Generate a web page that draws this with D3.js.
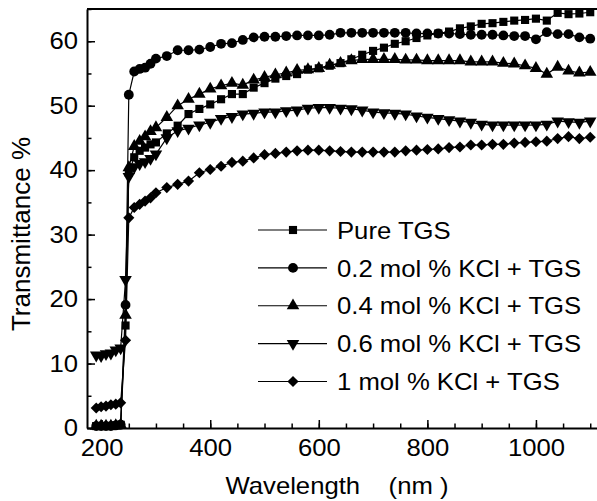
<!DOCTYPE html>
<html>
<head>
<meta charset="utf-8">
<script src="https://cdn.jsdelivr.net/npm/d3@7"></script>
<style>
  body { margin: 0; background: #fff; }
  text { font-family: "Liberation Sans", Arial, sans-serif; fill: #000; }
</style>
</head>
<body>
<div id="chart"></div>
<script>
// wavelength (nm) of every measured point
var wavelengths = [190, 199, 208, 217, 226, 235, 244,
    250, 260, 270, 280, 290, 300,
    320, 340, 360, 380, 400, 420, 440, 460, 480, 500,
    520, 540, 560, 580, 600, 620, 640, 660, 680, 700,
    720, 740, 760, 780, 800, 820, 840, 860, 880, 900,
    920, 940, 960, 980, 1000, 1020, 1040, 1060, 1080, 1100];

var pureTGS = [0.3, 0.3, 0.3, 0.3, 0.4, 0.5, 15.9,
    39.6, 42.0, 43.0, 43.5, 44.0, 44.3,
    45.7, 46.9, 48.7, 49.5, 50.2, 51.0, 51.8, 51.8, 52.8, 53.5,
    54.2, 54.6, 54.9, 55.6, 55.8, 56.2, 56.6, 57.2, 57.9, 58.5,
    59.0, 59.6, 60.0, 60.5, 60.9, 61.2, 61.5, 62.0, 62.3, 62.7,
    62.8, 63.0, 63.2, 63.3, 63.5, 63.2, 64.4, 64.2, 64.3, 64.5];

var kcl02 = [0.3, 0.3, 0.3, 0.3, 0.4, 0.5, 19.1,
    51.7, 55.3, 55.7, 55.9, 56.5, 57.3,
    57.7, 58.6, 58.6, 58.7, 59.1, 59.6, 59.7, 60.2, 60.6, 60.7,
    60.7, 60.8, 60.9, 60.9, 60.9, 61.0, 61.3, 61.3, 61.3, 61.3,
    61.3, 61.3, 61.3, 61.2, 61.2, 61.2, 61.2, 61.1, 61.0, 61.0,
    61.0, 60.9, 60.8, 60.8, 60.3, 61.4, 61.1, 61.1, 60.6, 60.4];

var kcl04 = [0.3, 0.3, 0.3, 0.3, 0.4, 0.5, 17.5,
    40.4, 43.7, 44.5, 45.2, 46.0, 46.6,
    48.2, 50.0, 51.0, 51.8, 52.6, 53.1, 53.5, 53.2, 54.0, 54.4,
    54.8, 55.1, 55.5, 55.6, 55.8, 56.3, 56.6, 57.0, 57.2, 57.2,
    57.2, 57.2, 57.1, 57.1, 57.0, 57.0, 57.0, 57.0, 56.8, 56.8,
    56.8, 56.6, 56.5, 56.2, 55.8, 54.9, 56.0, 55.4, 55.1, 55.2];

var kcl06 = [11.3, 11.2, 11.5, 11.6, 12.1, 12.4, 23.0,
    39.0, 40.5, 41.0, 41.3, 41.8, 42.5,
    45.0, 46.1, 46.5, 47.0, 47.4, 48.0, 48.3, 48.7, 48.8, 49.0,
    49.0, 49.2, 49.3, 49.6, 49.7, 49.7, 49.6, 49.5, 49.3, 49.0,
    48.9, 48.8, 48.7, 48.4, 48.2, 48.0, 47.8, 47.6, 47.4, 47.1,
    47.0, 47.0, 47.0, 47.0, 47.0, 47.1, 47.6, 47.5, 47.4, 47.6];

var kcl1 = [3.1, 3.3, 3.4, 3.6, 3.7, 3.9, 13.6,
    32.6, 34.2, 34.7, 35.2, 35.7, 36.5,
    37.3, 37.8, 38.3, 39.6, 40.1, 40.6, 41.2, 41.4, 41.9, 42.4,
    42.6, 42.8, 43.0, 43.1, 43.1, 43.0, 42.9, 42.8, 42.8, 42.8,
    42.8, 42.8, 43.0, 43.1, 43.2, 43.3, 43.5, 43.6, 43.9, 43.9,
    44.0, 44.0, 44.2, 44.3, 44.4, 44.5, 44.9, 45.2, 44.9, 45.1];

var seriesNames = ["Pure TGS", "0.2 mol % KCl + TGS", "0.4 mol % KCl + TGS",
    "0.6 mol % KCl + TGS", "1 mol % KCl + TGS"];
var seriesMarkers = ["square", "circle", "triangle", "triangleDown", "diamond"];

var xTicks = [200, 400, 600, 800, 1000];
var xMinorTicks = d3.range(200, 1101, 50);
var yTicks = [0, 10, 20, 30, 40, 50, 60];
var yMinorTicks = d3.range(0, 66, 5);

var series = [pureTGS, kcl02, kcl04, kcl06, kcl1].map(function(vals, i) {
    return {
        name: seriesNames[i],
        marker: seriesMarkers[i],
        points: vals.map(function(v, j) { return {x: wavelengths[j], y: v}; })
    };
});

var W = 597, H = 501;
var margin = {top: 9, right: -3, bottom: 73, left: 87};
var fs = 24;         // font size of tick labels, legend, x title
var stretch = 1.07;  // text in the figure is drawn a bit wide

var svg = d3.select("#chart").append("svg")
    .attr("width", W)
    .attr("height", H);

var x = d3.scaleLinear()
    .domain([173, 1118])
    .range([margin.left, W - margin.right]);

var y = d3.scaleLinear()
    .domain([0, 65])
    .range([H - margin.bottom, margin.top]);

// marker shapes
function markerPath(type) {
    if (type === "square") return d3.symbol(d3.symbolSquare, 66)();
    if (type === "circle") return d3.symbol(d3.symbolCircle, 76)();
    if (type === "triangle" || type === "triangleDown") return d3.symbol(d3.symbolTriangle, 68)();
    return d3.symbol(d3.symbolSquare, 62)();
}
function markerRotate(type) {
    if (type === "triangleDown") return " rotate(180)";
    if (type === "diamond") return " rotate(45)";
    return "";
}

// top frame line
svg.append("line")
    .attr("x1", margin.left).attr("x2", W)
    .attr("y1", y(65)).attr("y2", y(65))
    .attr("stroke", "#000")
    .attr("stroke-width", 2);

// X axis: major and minor ticks pointing inward
var xAxisG = svg.append("g")
    .attr("transform", "translate(0," + y(0) + ")");
xAxisG.append("g")
    .call(d3.axisBottom(x).tickValues(xMinorTicks).tickSize(-4.5).tickFormat(""))
    .call(function(g) { g.select(".domain").remove(); });
xAxisG.append("g")
    .call(d3.axisBottom(x).tickValues(xTicks).tickSize(-8).tickSizeOuter(0)
        .tickPadding(11).tickFormat(d3.format("d")))
    .call(function(g) {
        g.select(".domain").attr("stroke-width", 2);
        g.selectAll("text")
            .style("font-size", fs + "px")
            .attr("transform", "scale(" + stretch + ",1)");
    });
xAxisG.selectAll(".tick line").attr("stroke-width", 1.5);

// Y axis
var yAxisG = svg.append("g")
    .attr("transform", "translate(" + margin.left + ",0)");
yAxisG.append("g")
    .call(d3.axisLeft(y).tickValues(yMinorTicks).tickSize(-4.5).tickFormat(""))
    .call(function(g) { g.select(".domain").remove(); });
yAxisG.append("g")
    .call(d3.axisLeft(y).tickValues(yTicks).tickSize(-8).tickSizeOuter(0).tickPadding(9))
    .call(function(g) {
        g.select(".domain").attr("stroke-width", 2);
        g.selectAll("text")
            .style("font-size", fs + "px")
            .attr("x", -9 / stretch)
            .attr("transform", "scale(" + stretch + ",1)");
    });
yAxisG.selectAll(".tick line").attr("stroke-width", 1.5);

// lines
var line = d3.line()
    .x(function(d) { return x(d.x); })
    .y(function(d) { return y(d.y); });

var seriesG = svg.append("g")
    .selectAll("g")
    .data(series)
    .enter()
    .append("g");

seriesG.append("path")
    .attr("d", function(d) { return line(d.points); })
    .attr("fill", "none")
    .attr("stroke", "#000")
    .attr("stroke-width", 1.2);

seriesG.each(function(s) {
    d3.select(this).selectAll("path.mk")
        .data(s.points)
        .enter()
        .append("path")
        .attr("class", "mk")
        .attr("d", markerPath(s.marker))
        .attr("transform", function(d) {
            return "translate(" + x(d.x) + "," + y(d.y) + ")" + markerRotate(s.marker);
        })
        .attr("fill", "#000");
});

// legend
var legendY = d3.scalePoint()
    .domain(seriesNames)
    .range([230, 381.5]);

var legend = svg.append("g")
    .selectAll("g")
    .data(series)
    .enter()
    .append("g")
    .attr("transform", function(d) { return "translate(0," + legendY(d.name) + ")"; });

legend.append("line")
    .attr("x1", 258).attr("x2", 327)
    .attr("y1", 0).attr("y2", 0)
    .attr("stroke", "#000")
    .attr("stroke-width", 1.2);

legend.append("path")
    .attr("d", function(d) { return markerPath(d.marker); })
    .attr("transform", function(d) { return "translate(293,0)" + markerRotate(d.marker); })
    .attr("fill", "#000");

legend.append("text")
    .attr("transform", "translate(337,0) scale(" + stretch + ",1)")
    .attr("dy", "0.36em")
    .style("font-size", fs + "px")
    .text(function(d) { return d.name; });

// axis titles
svg.append("text")
    .attr("transform", "translate(337,494) scale(" + stretch + ",1)")
    .attr("text-anchor", "middle")
    .style("font-size", fs + "px")
    .style("white-space", "pre")
    .text("Wavelength    (nm )");

svg.append("text")
    .attr("transform", "translate(30,234) rotate(-90)")
    .attr("text-anchor", "middle")
    .style("font-size", "26px")
    .text("Transmittance %");
</script>
</body>
</html>
